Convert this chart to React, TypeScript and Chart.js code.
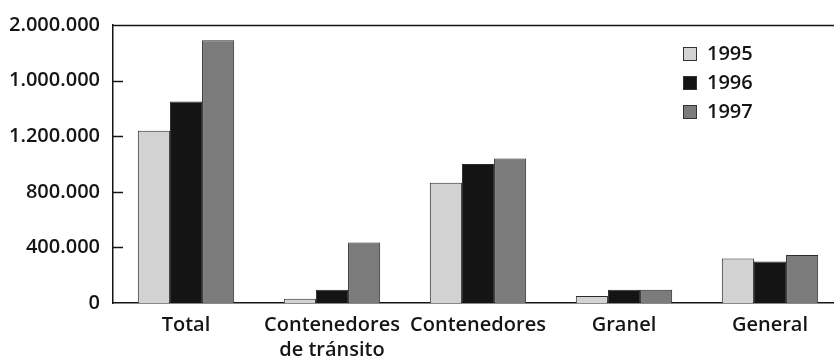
import React, { useEffect, useRef } from "react";
import { Chart, registerables } from "chart.js";

Chart.register(...registerables);

// Tráfico por tipo de mercancía, 1995–1997
const categories: (string | string[])[] = [
  "Total",
  ["Contenedores", "de tránsito"],
  "Contenedores",
  "Granel",
  "General",
];
const years = ["1995", "1996", "1997"];
const values1995 = [1240000, 30000, 865000, 50000, 320000];
const values1996 = [1450000, 95000, 1000000, 95000, 298000];
const values1997 = [1890000, 435000, 1040000, 95000, 345000];
const yTickLabels = ["0", "400.000", "800.000", "1.200.000", "1.000.000", "2.000.000"];

const fills = ["#d2d2d2", "#141414", "#7b7b7b"];
const FONT = "'Open Sans', sans-serif";
const INK = "#151515";

// Top frame line, inward y tick marks and the boxed legend
const decorations = {
  id: "decorations",
  afterDraw(chart: any) {
    const { ctx, chartArea, scales } = chart;
    const y = scales.y;
    ctx.save();
    ctx.strokeStyle = INK;
    ctx.lineWidth = 1.5;
    ctx.beginPath();
    const top = Math.round(chartArea.top) + 0.5;
    ctx.moveTo(chartArea.left, top);
    ctx.lineTo(chartArea.right, top);
    ctx.stroke();

    ctx.lineWidth = 1.5;
    y.ticks.forEach((t: any) => {
      if (t.value <= 0 || t.value >= y.max) return;
      const py = Math.round(y.getPixelForValue(t.value)) + 0.5;
      ctx.beginPath();
      ctx.moveTo(chartArea.left, py);
      ctx.lineTo(chartArea.left + 10, py);
      ctx.stroke();
    });

    const lx = chartArea.right - 160;
    const ly = chartArea.top + 29;
    const gap = 29;
    ctx.font = `600 20px ${FONT}`;
    ctx.textBaseline = "middle";
    ctx.textAlign = "left";
    chart.data.datasets.forEach((ds: any, i: number) => {
      const cy = ly + i * gap;
      ctx.fillStyle = ds.backgroundColor;
      ctx.fillRect(lx, cy - 7, 14, 14);
      ctx.strokeStyle = "#333";
      ctx.lineWidth = 1;
      ctx.strokeRect(lx + 0.5, cy - 6.5, 13, 13);
      ctx.fillStyle = INK;
      ctx.fillText(ds.label, lx + 24, cy);
    });
    ctx.restore();
  },
};

export default function App() {
  const ref = useRef<HTMLCanvasElement | null>(null);

  useEffect(() => {
    document.body.style.margin = "0";
    document.body.style.overflow = "hidden";
    const canvas = ref.current;
    if (!canvas) return;
    const series = [values1995, values1996, values1997];
    const chart = new Chart(canvas, {
      type: "bar",
      data: {
        labels: categories,
        datasets: years.map((label, i) => ({
          label,
          data: series[i],
          backgroundColor: fills[i],
          borderColor: "#2a2a2a",
          borderWidth: 1,
          barPercentage: 1,
          categoryPercentage: 0.66,
        })),
      },
      options: {
        responsive: false,
        animation: false,
        layout: { padding: { left: 8, right: 7, top: 19, bottom: 0 } },
        plugins: { legend: { display: false }, tooltip: { enabled: false } },
        scales: {
          x: {
            grid: { display: false, drawTicks: false },
            border: { display: true, color: INK, width: 1.5 },
            ticks: {
              autoSkip: false,
              maxRotation: 0,
              minRotation: 0,
              padding: 10,
              color: INK,
              font: { family: FONT, size: 20, weight: "600", lineHeight: 1.25 },
            },
            afterFit(scale: any) {
              scale.height = 55;
            },
          },
          y: {
            min: 0,
            max: 2000000,
            grid: { display: false, drawTicks: false },
            border: { display: true, color: INK, width: 1.5 },
            ticks: {
              stepSize: 400000,
              padding: 13,
              color: INK,
              font: { family: FONT, size: 20, weight: "600" },
              callback: (_v: any, i: number) => yTickLabels[i],
            },
            afterFit(scale: any) {
              scale.width = 105;
            },
          },
        },
      },
      plugins: [decorations],
    });
    return () => chart.destroy();
  }, []);

  return (
    <div style={{ width: 834, height: 358, overflow: "hidden", background: "#fff" }}>
      <canvas ref={ref} width={850} height={358} style={{ display: "block" }} />
    </div>
  );
}
